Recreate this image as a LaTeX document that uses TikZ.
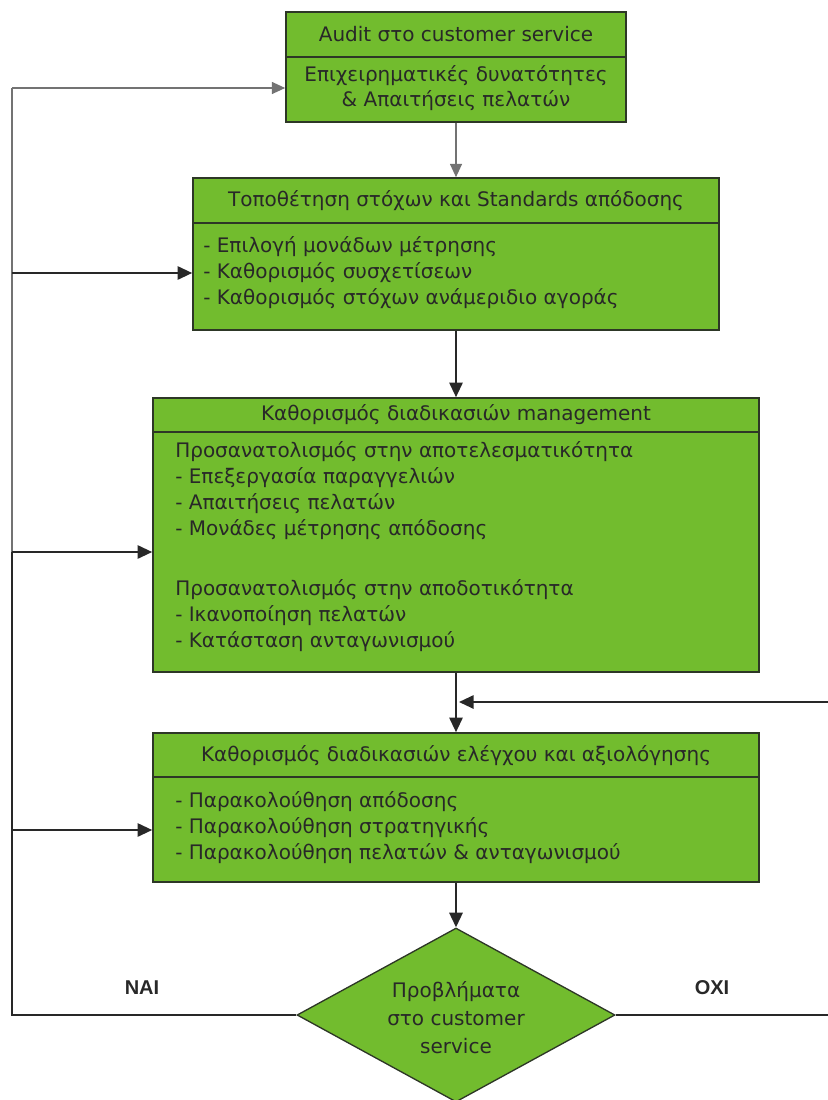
\documentclass[tikz,border=0pt]{standalone}
\usepackage{fontspec}
\setmainfont{DejaVu Sans}
\newfontfamily\labelfont{Liberation Sans}
\usetikzlibrary{shapes.geometric,arrows.meta,fit}
\definecolor{boxgreen}{RGB}{114,188,46}
\definecolor{ink}{RGB}{40,40,40}
\definecolor{edge}{RGB}{45,55,38}
\begin{document}
\begin{tikzpicture}[x=0.75pt,y=-0.75pt,
  box/.style={draw=edge, line width=1.2pt, fill=boxgreen, inner sep=0pt},
  rule/.style={draw=edge, line width=1.4pt},
  txt/.style={text=ink, inner sep=0pt, font=\fontsize{15}{19.5}\selectfont},
  ttl/.style={txt, anchor=center},
  body/.style={txt, align=left, anchor=west},
  wire/.style={draw=ink, line width=1.5pt},
  faint/.style={draw=black!55, line width=1pt},
  conn/.style={wire, -{Triangle[length=11pt,width=10pt]}},
  faintconn/.style={faint, -{Triangle[length=10pt,width=9pt]}},
  lbl/.style={text=ink, inner sep=0pt, font=\labelfont\bfseries\fontsize{15}{18}\selectfont}]
\useasboundingbox (0,0) rectangle (828,1100);

% process boxes
\node[box, fit={(286,12) (626,122)}] (b1) {};
\node[box, fit={(193,178) (719,330)}] (b2) {};
\node[box, fit={(153,398) (759,672)}] (b3) {};
\node[box, fit={(153,733) (759,882)}] (b4) {};

% title rules
\draw[rule] (b1.west |- 0,57) -- (b1.east |- 0,57);
\draw[rule] (b2.west |- 0,223) -- (b2.east |- 0,223);
\draw[rule] (b3.west |- 0,432) -- (b3.east |- 0,432);
\draw[rule] (b4.west |- 0,777) -- (b4.east |- 0,777);

% decision
\node[diamond, draw=edge, line width=1pt, fill=boxgreen, inner sep=0pt,
      minimum width=238.5pt, minimum height=130.5pt] (d) at (456,1015) {};

% texts
\node[ttl] (t1) at (456,34) {Audit στο customer service};
\node[txt, align=center, font=\fontsize{15}{18.75}\selectfont] (s1) at (456,88)
  {Επιχειρηματικές δυνατότητες\\ \& Απαιτήσεις πελατών};

\node[ttl] (t2) at (456,201) {Τοποθέτηση στόχων και Standards απόδοσης};
\node[body] (s2) at (203,273)
  {- Επιλογή μονάδων μέτρησης\\ - Καθορισμός συσχετίσεων\\ - Καθορισμός στόχων ανάμεριδιο αγοράς};

\node[ttl] (t3) at (456,415) {Καθορισμός διαδικασιών management};
\node[body] (s3a) at (175,491)
  {Προσανατολισμός στην αποτελεσματικότητα\\ - Επεξεργασία παραγγελιών\\ - Απαιτήσεις πελατών\\ - Μονάδες μέτρησης απόδοσης};
\node[body] (s3b) at (175,616)
  {Προσανατολισμός στην αποδοτικότητα\\ - Ικανοποίηση πελατών\\ - Κατάσταση ανταγωνισμού};

\node[ttl] (t4) at (456,756) {Καθορισμός διαδικασιών ελέγχου και αξιολόγησης};
\node[body] (s4) at (175,828)
  {- Παρακολούθηση απόδοσης\\ - Παρακολούθηση στρατηγικής\\ - Παρακολούθηση πελατών \& ανταγωνισμού};

\node[txt, align=center, font=\fontsize{15}{21}\selectfont] (q) at (456,1018)
  {Προβλήματα\\ στο customer\\ service};

\node[lbl] (yes) at (142,988) {ΝΑΙ};
\node[lbl] (no) at (712,988) {ΟΧΙ};

% main flow
\draw[faintconn] (b1.south) -- (b2.north);
\draw[conn] (b2.south) -- (b3.north);
\draw[conn] (b3.south) -- (b4.north);
\draw[conn] (b4.south) -- (d.north);

% feedback loop on the left (yes branch)
\coordinate (lb) at (12,1015);
\coordinate (l1) at (12,88);
\coordinate (l2) at (12,273);
\coordinate (l3) at (12,552);
\coordinate (l4) at (12,830);
\draw[wire] (d.west) -- (lb) -- (l3);
\draw[faint] (l3) -- (l1);
\draw[faintconn] (l1) -- (l1 -| b1.west);
\draw[conn] (l2) -- (l2 -| b2.west);
\draw[conn] (l3) -- (l3 -| b3.west);
\draw[conn] (l4) -- (l4 -| b4.west);

% no branch on the right
\coordinate (rb) at (828,1015);
\coordinate (rt) at (828,702);
\coordinate (rj) at (459,702);
\draw[wire] (d.east) -- (rb);
\draw[conn] (rt) -- (rj);
\end{tikzpicture}
\end{document}
